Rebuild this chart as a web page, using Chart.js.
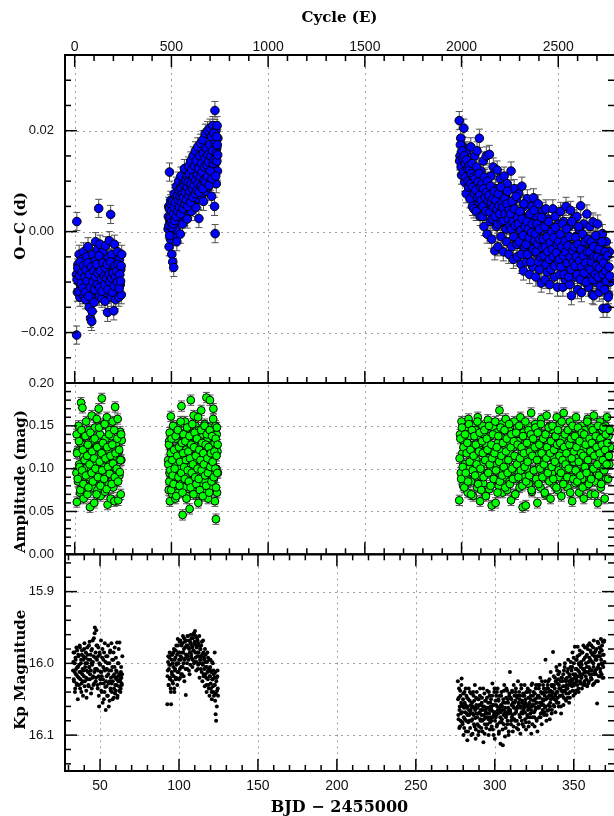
<!DOCTYPE html>
<html>
<head>
<meta charset="utf-8">
<script src="https://cdn.jsdelivr.net/npm/chart.js@4.4.0/dist/chart.umd.min.js"></script>
<style>
  html, body { margin: 0; padding: 0; background: #fff; }
  #wrap { position: relative; width: 614px; height: 816px; }
</style>
</head>
<body>
<div id="wrap"><canvas id="chart" width="614" height="816"></canvas></div>
<script>
/* ------------------------------------------------------------
   Timing data : cycle number E, O-C (d) and amplitude (mag)
------------------------------------------------------------ */
const cycles = [
  9, 10, 11, 14, 17, 20, 23, 27, 30, 33, 36, 40, 43, 46, 49, 53, 56, 59, 62, 66,
  69, 72, 75, 79, 82, 85, 88, 92, 95, 98, 101, 105, 108, 111, 114, 118, 121, 124, 127, 131,
  134, 137, 140, 144, 147, 150, 153, 157, 160, 163, 166, 170, 173, 176, 179, 183, 186, 189, 192, 196,
  199, 202, 205, 209, 212, 215, 218, 222, 225, 228, 231, 235, 238, 241, 243,
  483, 486, 488, 490, 492, 495, 497, 500, 502, 505, 507, 510, 512, 515, 518, 520, 523, 526, 528, 531,
  534, 537, 540, 543, 546, 549, 552, 555, 558, 561, 564, 567, 570, 573, 576, 579, 582, 585, 588, 591,
  594, 597, 600, 603, 606, 609, 612, 615, 618, 621, 624, 627, 630, 633, 636, 639, 642, 645, 648, 651,
  654, 657, 660, 663, 666, 669, 672, 675, 678, 681, 684, 687, 690, 693, 696, 699, 702, 705, 708, 711,
  714, 717, 720, 723, 725, 726, 728, 730, 732, 734, 736, 738, 740,
  1988, 1992, 1996, 2000, 2004, 2008, 2012, 2016, 2020, 2024, 2028, 2032, 2036, 2040, 2044, 2048, 2052, 2056, 2060, 2064,
  2068, 2072, 2076, 2080, 2084, 2088, 2092, 2096, 2100, 2104, 2108, 2112, 2116, 2120, 2124, 2128, 2132, 2136, 2140, 2144,
  2148, 2152, 2156, 2160, 2164, 2168, 2172, 2176, 2180, 2184, 2188, 2192, 2196, 2200, 2204, 2208, 2212, 2216, 2220, 2224,
  2228, 2232, 2236, 2240, 2244, 2248, 2252, 2256, 2260, 2264, 2268, 2272, 2276, 2280, 2284, 2288, 2292, 2296, 2300, 2304,
  2308, 2312, 2316, 2320, 2324, 2328, 2332, 2336, 2340, 2344, 2348, 2352, 2356, 2360, 2364, 2368, 2372, 2376, 2380, 2384,
  2388, 2392, 2396, 2400, 2404, 2408, 2412, 2416, 2420, 2424, 2428, 2432, 2436, 2440, 2444, 2448, 2452, 2456, 2460, 2464,
  2468, 2472, 2476, 2480, 2484, 2488, 2492, 2496, 2500, 2504, 2508, 2512, 2516, 2520, 2524, 2528, 2532, 2536, 2540, 2544,
  2548, 2552, 2556, 2560, 2564, 2568, 2572, 2576, 2580, 2584, 2588, 2592, 2596, 2600, 2604, 2608, 2612, 2616, 2620, 2624,
  2628, 2632, 2636, 2640, 2644, 2648, 2652, 2656, 2660, 2664, 2668, 2672, 2676, 2680, 2684, 2688, 2692, 2696, 2700, 2704,
  2708, 2712, 2716, 2720, 2724, 2728, 2732, 2736, 2740, 2744, 2748, 2752, 2756, 2760, 2764, 2768,
  12, 16, 22, 25, 29, 35, 38, 42, 45, 51, 55, 58, 64, 68, 71, 77, 81, 87, 90, 94,
  100, 103, 107, 113, 116, 120, 126, 129, 133, 139, 142, 146, 152, 155, 159, 165, 168, 172, 178, 181,
  185, 191, 194, 198, 204, 207, 211, 217, 220, 224, 230, 233, 237, 240,
  484, 487, 489, 491, 494, 496, 499, 501, 504, 506, 509, 511, 514, 517, 522, 525, 530, 533, 536, 539,
  542, 545, 548, 551, 554, 557, 560, 563, 566, 569, 572, 575, 578, 581, 584, 587, 590, 593, 596, 599,
  602, 605, 608, 611, 614, 617, 620, 623, 626, 629, 632, 635, 638, 641, 644, 647, 650, 653, 656, 659,
  662, 665, 668, 671, 674, 677, 680, 683, 686, 689, 692, 695, 698, 701, 704, 707, 710, 713, 716, 719,
  722, 727, 729, 731, 733, 735, 737, 739,
  1990, 1994, 1998, 2002, 2006, 2010, 2014, 2018, 2022, 2026, 2030, 2034, 2038, 2042, 2046, 2050, 2054, 2058, 2062, 2066,
  2070, 2074, 2078, 2082, 2086, 2090, 2094, 2098, 2102, 2106, 2110, 2114, 2118, 2122, 2126, 2130, 2134, 2138, 2142, 2146,
  2150, 2154, 2158, 2162, 2166, 2170, 2174, 2178, 2182, 2186, 2190, 2194, 2198, 2202, 2206, 2210, 2214, 2218, 2222, 2226,
  2230, 2234, 2238, 2242, 2246, 2250, 2254, 2258, 2262, 2266, 2270, 2274, 2278, 2282, 2286, 2290, 2294, 2298, 2302, 2306,
  2310, 2314, 2318, 2322, 2326, 2330, 2334, 2338, 2342, 2346, 2350, 2354, 2358, 2362, 2366, 2370, 2374, 2378, 2382, 2386,
  2390, 2394, 2398, 2402, 2406, 2410, 2414, 2418, 2422, 2426, 2430, 2434, 2438, 2442, 2446, 2450, 2454, 2458, 2462, 2466,
  2470, 2474, 2478, 2482, 2486, 2490, 2494, 2498, 2502, 2506, 2510, 2514, 2518, 2522, 2526, 2530, 2534, 2538, 2542, 2546,
  2550, 2554, 2558, 2562, 2566, 2570, 2574, 2578, 2582, 2586, 2590, 2594, 2598, 2602, 2606, 2610, 2614, 2618, 2622, 2626,
  2630, 2634, 2638, 2642, 2646, 2650, 2654, 2658, 2662, 2666, 2670, 2674, 2678, 2682, 2686, 2690, 2694, 2698, 2702, 2706,
  2710, 2714, 2718, 2722, 2726, 2730, 2734, 2738, 2742, 2746, 2750, 2754, 2758, 2762, 2766
];

const ocValues = [
  -0.0085, -0.0205, 0.0020, -0.0120, -0.0065, -0.0100, -0.0045, -0.0130, -0.0078, -0.0110,
  -0.0055, -0.0092, -0.0125, -0.0040, -0.0105, -0.0070, -0.0135, -0.0088, -0.0050, -0.0115,
  -0.0030, -0.0098, -0.0150, -0.0062, -0.0172, -0.0108, -0.0178, -0.0045, -0.0125, -0.0082,
  -0.0140, -0.0058, -0.0020, -0.0095, -0.0118, -0.0035, -0.0075, 0.0046, -0.0128, -0.0025,
  -0.0102, -0.0060, -0.0132, -0.0085, -0.0040, -0.0112, -0.0068, -0.0138, -0.0028, -0.0095,
  -0.0122, -0.0160, -0.0052, -0.0105, -0.0018, -0.0080, 0.0034, -0.0130, -0.0045, -0.0110,
  -0.0070, -0.0157, -0.0025, -0.0098, -0.0135, -0.0060, -0.0115, -0.0040, -0.0088, -0.0130,
  -0.0055, -0.0105, -0.0075, -0.0125, -0.0045,
  0.0005, 0.0050, -0.0030, 0.0118, 0.0020, -0.0015, 0.0062, 0.0010, -0.0045, 0.0040,
  -0.0060, 0.0025, -0.0071, 0.0075, -0.0010, 0.0045, 0.0005, 0.0090, -0.0020, 0.0055,
  0.0020, 0.0100, 0.0030, 0.0068, -0.0005, 0.0110, 0.0040, 0.0080, 0.0015, 0.0095,
  0.0050, 0.0125, 0.0030, 0.0085, 0.0060, 0.0108, 0.0025, 0.0075, 0.0130, 0.0045,
  0.0092, 0.0060, 0.0140, 0.0040, 0.0105, 0.0070, 0.0150, 0.0055, 0.0115, 0.0082,
  0.0160, 0.0048, 0.0120, 0.0090, 0.0168, 0.0065, 0.0026, 0.0135, 0.0100, 0.0175,
  0.0072, 0.0125, 0.0095, 0.0182, 0.0060, 0.0140, 0.0110, 0.0195, 0.0080, 0.0150,
  0.0118, 0.0200, 0.0088, 0.0160, 0.0128, 0.0205, 0.0100, 0.0170, 0.0070, 0.0145,
  0.0210, 0.0115, 0.0180, 0.0050, 0.0240, -0.0004, 0.0135, 0.0200, 0.0095, 0.0165,
  0.0210, 0.0120, 0.0185,
  0.0220, 0.0150, 0.0185, 0.0112, 0.0170, 0.0130, 0.0205, 0.0098, 0.0145, 0.0075,
  0.0160, 0.0120, 0.0088, 0.0138, 0.0065, 0.0168, 0.0102, 0.0050, 0.0128, 0.0045,
  0.0150, 0.0085, 0.0040, 0.0160, 0.0110, 0.0060, 0.0185, 0.0030, 0.0120, 0.0080,
  0.0030, 0.0140, 0.0010, 0.0105, 0.0058, 0.0150, -0.0005, 0.0092, 0.0045, 0.0153,
  0.0020, 0.0110, -0.0015, 0.0070, 0.0128, 0.0035, -0.0038, 0.0085, 0.0010, 0.0122,
  -0.0030, 0.0060, 0.0025, 0.0105, -0.0010, 0.0075, 0.0040, -0.0040, 0.0110, 0.0015,
  0.0070, -0.0020, 0.0095, 0.0030, -0.0045, 0.0060, 0.0005, 0.0120, -0.0030, 0.0050,
  -0.0055, 0.0085, 0.0010, -0.0015, 0.0065, -0.0050, 0.0030, 0.0075, -0.0025, 0.0035,
  -0.0065, 0.0090, 0.0000, -0.0078, 0.0050, -0.0035, 0.0020, -0.0060, 0.0065, -0.0015,
  0.0030, -0.0085, 0.0010, -0.0040, 0.0050, -0.0070, 0.0067, -0.0020, 0.0015, -0.0090,
  0.0030, -0.0045, 0.0055, -0.0010, -0.0075, 0.0020, -0.0102, -0.0030, 0.0040, -0.0060,
  0.0005, -0.0095, 0.0045, -0.0020, -0.0080, 0.0025, -0.0045, -0.0105, 0.0010, -0.0030,
  -0.0070, 0.0045, -0.0010, -0.0090, 0.0030, -0.0055, -0.0025, -0.0110, 0.0015, -0.0040,
  -0.0085, 0.0040, -0.0015, -0.0065, -0.0110, 0.0020, -0.0035, -0.0095, 0.0050, -0.0020,
  -0.0075, -0.0050, 0.0010, -0.0105, 0.0042, -0.0127, -0.0030, -0.0060, 0.0025, -0.0090,
  -0.0010, -0.0065, 0.0030, -0.0115, -0.0040, 0.0005, -0.0080, 0.0051, -0.0121, -0.0025,
  -0.0060, 0.0015, -0.0100, -0.0045, -0.0085, 0.0035, -0.0020, -0.0110, -0.0055, 0.0010,
  -0.0090, -0.0035, -0.0125, 0.0019, -0.0127, -0.0060, -0.0015, -0.0100, -0.0045, 0.0015,
  -0.0080, -0.0120, -0.0030, -0.0095, -0.0060, -0.0004, -0.0152, -0.0110, -0.0045, -0.0085,
  -0.0020, -0.0152, -0.0070, -0.0125, -0.0040, -0.0100,
  -0.0095, -0.0072, -0.0118, -0.0088, -0.0060, -0.0102, -0.0080, -0.0112, -0.0068, -0.0090,
  -0.0120, -0.0075, -0.0098, -0.0062, -0.0128, -0.0085, -0.0110, -0.0070, -0.0158, -0.0100,
  -0.0078, -0.0115, -0.0090, -0.0065, -0.0105, -0.0082, -0.0048, -0.0110, -0.0078, -0.0095,
  -0.0118, -0.0062, -0.0088, -0.0105, -0.0072, -0.0092, -0.0065, -0.0115, -0.0085, -0.0100,
  -0.0060, -0.0092, -0.0120, -0.0082, -0.0108, -0.0068, -0.0090, -0.0078, -0.0100, -0.0065,
  -0.0112, -0.0085, -0.0098, -0.0068,
  0.0030, 0.0012, 0.0045, -0.0008, 0.0028, 0.0055, 0.0018, 0.0040, 0.0008, 0.0060,
  0.0015, 0.0035, 0.0048, 0.0022, 0.0058, 0.0030, 0.0072, 0.0040, 0.0062, 0.0082,
  0.0048, 0.0070, 0.0035, 0.0085, 0.0058, 0.0075, 0.0045, 0.0068, 0.0092, 0.0055,
  0.0078, 0.0100, 0.0062, 0.0088, 0.0050, 0.0098, 0.0072, 0.0115, 0.0080, 0.0058,
  0.0095, 0.0122, 0.0085, 0.0068, 0.0108, 0.0092, 0.0130, 0.0075, 0.0102, 0.0140,
  0.0082, 0.0112, 0.0095, 0.0125, 0.0078, 0.0150, 0.0108, 0.0090, 0.0135, 0.0118,
  0.0085, 0.0155, 0.0102, 0.0128, 0.0145, 0.0098, 0.0165, 0.0132, 0.0110, 0.0152,
  0.0138, 0.0092, 0.0172, 0.0120, 0.0150, 0.0188, 0.0105, 0.0160, 0.0135, 0.0195,
  0.0142, 0.0175, 0.0110, 0.0155, 0.0188, 0.0140, 0.0172, 0.0152,
  0.0140, 0.0172, 0.0128, 0.0160, 0.0145, 0.0118, 0.0150, 0.0135, 0.0108, 0.0142,
  0.0125, 0.0100, 0.0130, 0.0122, 0.0095, 0.0115, 0.0135, 0.0088, 0.0108, 0.0075,
  0.0105, 0.0082, 0.0128, 0.0068, 0.0098, 0.0115, 0.0072, 0.0090, 0.0062, 0.0095,
  0.0050, 0.0085, 0.0108, 0.0068, 0.0040, 0.0078, 0.0100, 0.0060, 0.0072, 0.0038,
  0.0090, 0.0058, 0.0025, 0.0065, 0.0048, 0.0080, 0.0030, 0.0062, 0.0045, 0.0015,
  0.0075, 0.0052, 0.0035, 0.0088, 0.0020, 0.0058, 0.0048, 0.0022, 0.0065, 0.0035,
  0.0005, 0.0055, 0.0080, 0.0025, 0.0042, 0.0012, 0.0035, 0.0005, 0.0060, 0.0020,
  -0.0010, 0.0045, 0.0012, 0.0070, -0.0025, 0.0028, 0.0015, -0.0020, 0.0040, 0.0002,
  -0.0045, 0.0025, -0.0008, 0.0055, -0.0030, 0.0010, -0.0025, 0.0020, -0.0045, 0.0005,
  -0.0012, 0.0035, -0.0060, -0.0002, 0.0015, -0.0035, 0.0042, -0.0018, -0.0005, -0.0040,
  0.0015, -0.0025, -0.0060, 0.0005, -0.0015, -0.0050, 0.0028, -0.0032, -0.0015, -0.0048,
  0.0010, -0.0030, -0.0065, -0.0010, -0.0040, 0.0020, -0.0055, -0.0022, -0.0075, 0.0000,
  -0.0035, -0.0050, -0.0012, -0.0068, 0.0008, -0.0042, -0.0025, -0.0058, -0.0020, -0.0055,
  -0.0005, -0.0070, -0.0030, 0.0015, -0.0048, -0.0085, -0.0018, -0.0040, 0.0005, -0.0062,
  -0.0028, -0.0090, -0.0010, -0.0050, -0.0075, 0.0020, -0.0038, -0.0060, -0.0030, -0.0068,
  -0.0012, -0.0050, -0.0085, -0.0025, 0.0010, -0.0058, -0.0095, -0.0035, -0.0070, -0.0005,
  -0.0048, -0.0082, -0.0020, -0.0062, -0.0100, -0.0040, -0.0015, -0.0072, -0.0040, -0.0075,
  -0.0020, -0.0060, -0.0095, -0.0030, -0.0050, -0.0085, -0.0008, -0.0068, -0.0050, -0.0090,
  -0.0035, -0.0072, -0.0108, -0.0055, -0.0020, -0.0085, -0.0062, -0.0115, -0.0040, -0.0078,
  -0.0098, -0.0048, -0.0130, -0.0070, -0.0088
];

const ampValues = [
  0.095, 0.140, 0.061, 0.120, 0.085, 0.150, 0.105, 0.072, 0.130, 0.177,
  0.092, 0.171, 0.115, 0.065, 0.138, 0.100, 0.080, 0.155, 0.110, 0.070,
  0.125, 0.090, 0.145, 0.055, 0.118, 0.098, 0.162, 0.078, 0.133, 0.108,
  0.060, 0.148, 0.088, 0.125, 0.158, 0.075, 0.112, 0.170, 0.095, 0.140,
  0.068, 0.128, 0.182, 0.085, 0.118, 0.152, 0.102, 0.073, 0.135, 0.092,
  0.160, 0.058, 0.122, 0.082, 0.145, 0.105, 0.065, 0.138, 0.095, 0.155,
  0.078, 0.115, 0.062, 0.172, 0.100, 0.130, 0.085, 0.158, 0.063, 0.120,
  0.092, 0.143, 0.070, 0.110, 0.133,
  0.110, 0.075, 0.132, 0.095, 0.062, 0.125, 0.161, 0.088, 0.140, 0.070,
  0.115, 0.098, 0.148, 0.080, 0.120, 0.065, 0.135, 0.105, 0.090, 0.150,
  0.072, 0.118, 0.100, 0.142, 0.083, 0.128, 0.173, 0.095, 0.046, 0.110,
  0.138, 0.078, 0.155, 0.092, 0.122, 0.068, 0.145, 0.102, 0.085, 0.130,
  0.053, 0.115, 0.180, 0.098, 0.140, 0.075, 0.125, 0.162, 0.088, 0.110,
  0.150, 0.070, 0.132, 0.095, 0.118, 0.060, 0.145, 0.100, 0.082, 0.127,
  0.168, 0.090, 0.115, 0.140, 0.073, 0.105, 0.152, 0.086, 0.120, 0.183,
  0.098, 0.135, 0.065, 0.112, 0.148, 0.180, 0.093, 0.125, 0.078, 0.145,
  0.105, 0.170, 0.088, 0.130, 0.062, 0.115, 0.150, 0.041, 0.100, 0.140,
  0.072, 0.120, 0.095,
  0.063, 0.140, 0.095, 0.155, 0.118, 0.080, 0.132, 0.105, 0.148, 0.090,
  0.125, 0.072, 0.158, 0.100, 0.138, 0.085, 0.115, 0.150, 0.068, 0.128,
  0.098, 0.145, 0.110, 0.078, 0.160, 0.092, 0.122, 0.062, 0.135, 0.105,
  0.150, 0.083, 0.118, 0.140, 0.070, 0.128, 0.095, 0.157, 0.112, 0.076,
  0.138, 0.100, 0.057, 0.125, 0.148, 0.088, 0.115, 0.060, 0.142, 0.105,
  0.130, 0.080, 0.168, 0.097, 0.120, 0.152, 0.072, 0.135, 0.110, 0.090,
  0.158, 0.102, 0.075, 0.128, 0.145, 0.085, 0.118, 0.063, 0.140, 0.098,
  0.125, 0.155, 0.070, 0.112, 0.088, 0.148, 0.132, 0.095, 0.078, 0.160,
  0.105, 0.120, 0.055, 0.142, 0.090, 0.115, 0.057, 0.135, 0.100, 0.150,
  0.082, 0.128, 0.110, 0.165, 0.073, 0.138, 0.098, 0.120, 0.152, 0.086,
  0.115, 0.060, 0.145, 0.102, 0.130, 0.078, 0.158, 0.092, 0.125, 0.108,
  0.140, 0.070, 0.118, 0.162, 0.088, 0.132, 0.100, 0.150, 0.065, 0.122,
  0.095, 0.145, 0.112, 0.080, 0.138, 0.105, 0.160, 0.075, 0.128, 0.090,
  0.152, 0.118, 0.068, 0.135, 0.098, 0.165, 0.085, 0.125, 0.110, 0.143,
  0.078, 0.130, 0.102, 0.155, 0.090, 0.120, 0.062, 0.148, 0.108, 0.135,
  0.083, 0.160, 0.115, 0.095, 0.140, 0.072, 0.128, 0.105, 0.150, 0.088,
  0.122, 0.065, 0.145, 0.100, 0.135, 0.080, 0.158, 0.112, 0.092, 0.130,
  0.070, 0.148, 0.118, 0.102, 0.162, 0.085, 0.125, 0.140, 0.095, 0.060,
  0.135, 0.110, 0.155, 0.078, 0.120, 0.145, 0.100, 0.130, 0.065, 0.150,
  0.088, 0.160, 0.115, 0.138, 0.105, 0.125,
  0.118, 0.088, 0.132, 0.102, 0.075, 0.145, 0.098, 0.122, 0.082, 0.110,
  0.138, 0.092, 0.115, 0.128, 0.078, 0.105, 0.142, 0.095, 0.120, 0.085,
  0.112, 0.135, 0.100, 0.070, 0.125, 0.090, 0.148, 0.108, 0.080, 0.118,
  0.098, 0.130, 0.088, 0.152, 0.112, 0.076, 0.125, 0.102, 0.140, 0.094,
  0.115, 0.082, 0.128, 0.106, 0.145, 0.090, 0.118, 0.100, 0.135, 0.085,
  0.122, 0.096, 0.110, 0.140,
  0.105, 0.128, 0.085, 0.142, 0.098, 0.118, 0.075, 0.135, 0.110, 0.092,
  0.150, 0.082, 0.122, 0.100, 0.138, 0.068, 0.115, 0.145, 0.090, 0.125,
  0.080, 0.108, 0.155, 0.095, 0.130, 0.072, 0.118, 0.140, 0.102, 0.088,
  0.132, 0.110, 0.065, 0.148, 0.098, 0.120, 0.085, 0.138, 0.112, 0.078,
  0.128, 0.095, 0.152, 0.105, 0.070, 0.125, 0.142, 0.090, 0.115, 0.082,
  0.135, 0.100, 0.160, 0.088, 0.122, 0.075, 0.110, 0.145, 0.098, 0.130,
  0.068, 0.118, 0.105, 0.150, 0.092, 0.128, 0.080, 0.140, 0.112, 0.095,
  0.125, 0.072, 0.145, 0.102, 0.118, 0.085, 0.138, 0.108, 0.158, 0.090,
  0.120, 0.100, 0.135, 0.078, 0.115, 0.148, 0.095, 0.128,
  0.112, 0.135, 0.088, 0.148, 0.102, 0.125, 0.078, 0.140, 0.095, 0.118,
  0.130, 0.085, 0.152, 0.108, 0.122, 0.070, 0.145, 0.098, 0.115, 0.138,
  0.092, 0.128, 0.105, 0.155, 0.082, 0.120, 0.142, 0.100, 0.075, 0.132,
  0.118, 0.090, 0.145, 0.110, 0.068, 0.135, 0.122, 0.095, 0.150, 0.105,
  0.080, 0.128, 0.112, 0.140, 0.088, 0.118, 0.155, 0.098, 0.125, 0.072,
  0.138, 0.108, 0.085, 0.148, 0.115, 0.092, 0.130, 0.102, 0.145, 0.078,
  0.120, 0.135, 0.095, 0.110, 0.152, 0.082, 0.125, 0.140, 0.100, 0.088,
  0.132, 0.115, 0.070, 0.142, 0.105, 0.128, 0.090, 0.150, 0.112, 0.098,
  0.125, 0.080, 0.138, 0.118, 0.102, 0.155, 0.085, 0.130, 0.108, 0.145,
  0.092, 0.120, 0.140, 0.075, 0.115, 0.135, 0.098, 0.125, 0.148, 0.088,
  0.110, 0.142, 0.082, 0.128, 0.100, 0.152, 0.118, 0.090, 0.135, 0.105,
  0.072, 0.140, 0.112, 0.125, 0.095, 0.148, 0.085, 0.118, 0.132, 0.102,
  0.150, 0.088, 0.122, 0.108, 0.138, 0.078, 0.128, 0.145, 0.098, 0.115,
  0.130, 0.095, 0.155, 0.110, 0.082, 0.125, 0.140, 0.105, 0.118, 0.090,
  0.145, 0.100, 0.128, 0.072, 0.135, 0.112, 0.150, 0.088, 0.120, 0.138,
  0.098, 0.125, 0.085, 0.148, 0.108, 0.132, 0.092, 0.118, 0.142, 0.078,
  0.115, 0.140, 0.102, 0.128, 0.095, 0.155, 0.110, 0.082, 0.135, 0.120,
  0.088, 0.130, 0.145, 0.100, 0.115, 0.070, 0.138, 0.125, 0.105, 0.150,
  0.092, 0.118, 0.135, 0.082, 0.128, 0.110, 0.148, 0.098, 0.122, 0.140,
  0.105, 0.130, 0.088, 0.115, 0.145
];

const ocError = 0.0018;   // typical timing error (d)
const ampError = 0.006;   // typical amplitude error (mag)

/* ------------------------------------------------------------
   Light curve : BJD - 2455000 and Kepler magnitude
------------------------------------------------------------ */
const kpTimes = [
  32.9, 33.2, 33.5, 33.8, 34.1, 34.4, 34.7, 35.0, 35.3, 35.6, 35.9, 36.2, 36.5, 36.8, 37.1, 37.4, 37.7, 38.0, 38.3, 38.6,
  38.9, 39.2, 39.5, 39.8, 40.1, 40.4, 40.7, 41.0, 41.3, 41.6, 41.9, 42.2, 42.5, 42.8, 43.1, 43.4, 43.7, 44.0, 44.3, 44.6,
  44.9, 45.2, 45.5, 45.8, 46.1, 46.4, 46.7, 47.0, 47.3, 47.6, 47.9, 48.2, 48.5, 48.8, 49.1, 49.4, 49.7, 50.0, 50.3, 50.6,
  50.9, 51.2, 51.5, 51.8, 52.1, 52.4, 52.7, 53.0, 53.3, 53.6, 53.9, 54.2, 54.5, 54.8, 55.1, 55.4, 55.7, 56.0, 56.3, 56.6,
  56.9, 57.2, 57.5, 57.8, 58.1, 58.4, 58.7, 59.0, 59.3, 59.6, 59.9, 60.2, 60.5, 60.8, 61.1, 61.4, 61.7, 62.0, 62.3, 62.6,
  62.9, 63.2, 63.5, 63.8, 64.1,
  92.6, 92.9, 93.2, 93.5, 93.8, 94.1, 94.4, 94.7, 95.0, 95.3, 95.6, 95.9, 96.2, 96.5, 96.8, 97.1, 97.4, 97.7, 98.0, 98.3,
  98.6, 98.9, 99.2, 99.5, 99.8, 100.1, 100.4, 100.7, 101.0, 101.3, 101.6, 101.9, 102.2, 102.5, 102.8, 103.1, 103.4, 103.7, 104.0, 104.3,
  104.6, 104.9, 105.2, 105.5, 105.8, 106.1, 106.4, 106.7, 107.0, 107.3, 107.6, 107.9, 108.2, 108.5, 108.8, 109.1, 109.4, 109.7, 110.0, 110.3,
  110.6, 110.9, 111.2, 111.5, 111.8, 112.1, 112.4, 112.7, 113.0, 113.3, 113.6, 113.9, 114.2, 114.5, 114.8, 115.1, 115.4, 115.7, 116.0, 116.3,
  116.6, 116.9, 117.2, 117.5, 117.8, 118.1, 118.4, 118.7, 119.0, 119.3, 119.6, 119.9, 120.2, 120.5, 120.8, 121.1, 121.4, 121.7, 122.0, 122.3,
  122.6, 122.9, 123.2, 123.5, 123.8, 124.1, 124.4, 124.7,
  276.6, 276.9, 277.2, 277.5, 277.8, 278.1, 278.4, 278.7, 279.0, 279.3, 279.6, 279.9, 280.2, 280.5, 280.8, 281.1, 281.4, 281.7, 282.0, 282.3,
  282.6, 282.9, 283.2, 283.5, 283.8, 284.1, 284.4, 284.7, 285.0, 285.3, 285.6, 285.9, 286.2, 286.5, 286.8, 287.1, 287.4, 287.7, 288.0, 288.3,
  288.6, 288.9, 289.2, 289.5, 289.8, 290.1, 290.4, 290.7, 291.0, 291.3, 291.6, 291.9, 292.2, 292.5, 292.8, 293.1, 293.4, 293.7, 294.0, 294.3,
  294.6, 294.9, 295.2, 295.5, 295.8, 296.1, 296.4, 296.7, 297.0, 297.3, 297.6, 297.9, 298.2, 298.5, 298.8, 299.1, 299.4, 299.7, 300.0, 300.3,
  300.6, 300.9, 301.2, 301.5, 301.8, 302.1, 302.4, 302.7, 303.0, 303.3, 303.6, 303.9, 304.2, 304.5, 304.8, 305.1, 305.4, 305.7, 306.0, 306.3,
  306.6, 306.9, 307.2, 307.5, 307.8, 308.1, 308.4, 308.7, 309.0, 309.3, 309.6, 309.9, 310.2, 310.5, 310.8, 311.1, 311.4, 311.7, 312.0, 312.3,
  312.6, 312.9, 313.2, 313.5, 313.8, 314.1, 314.4, 314.7, 315.0, 315.3, 315.6, 315.9, 316.2, 316.5, 316.8, 317.1, 317.4, 317.7, 318.0, 318.3,
  318.6, 318.9, 319.2, 319.5, 319.8, 320.1, 320.4, 320.7, 321.0, 321.3, 321.6, 321.9, 322.2, 322.5, 322.8, 323.1, 323.4, 323.7, 324.0, 324.3,
  324.6, 324.9, 325.2, 325.5, 325.8, 326.1, 326.4, 326.7, 327.0, 327.3, 327.6, 327.9, 328.2, 328.5, 328.8, 329.1, 329.4, 329.7, 330.0, 330.3,
  330.6, 330.9, 331.2, 331.5, 331.8, 332.1, 332.4, 332.7, 333.0, 333.3, 333.6, 333.9, 334.2, 334.5, 334.8, 335.1, 335.4, 335.7, 336.0, 336.3,
  336.6, 336.9, 337.2, 337.5, 337.8, 338.1, 338.4, 338.7, 339.0, 339.3, 339.6, 339.9, 340.2, 340.5, 340.8, 341.1, 341.4, 341.7, 342.0, 342.3,
  342.6, 342.9, 343.2, 343.5, 343.8, 344.1, 344.4, 344.7, 345.0, 345.3, 345.6, 345.9, 346.2, 346.5, 346.8, 347.1, 347.4, 347.7, 348.0, 348.3,
  348.6, 348.9, 349.2, 349.5, 349.8, 350.1, 350.4, 350.7, 351.0, 351.3, 351.6, 351.9, 352.2, 352.5, 352.8, 353.1, 353.4, 353.7, 354.0, 354.3,
  354.6, 354.9, 355.2, 355.5, 355.8, 356.1, 356.4, 356.7, 357.0, 357.3, 357.6, 357.9, 358.2, 358.5, 358.8, 359.1, 359.4, 359.7, 360.0, 360.3,
  360.6, 360.9, 361.2, 361.5, 361.8, 362.1, 362.4, 362.7, 363.0, 363.3, 363.6, 363.9, 364.2, 364.5, 364.8, 365.1, 365.4, 365.7, 366.0, 366.3,
  366.6, 366.9, 367.2, 367.5, 367.8, 368.1, 368.4, 368.7, 369.0, 369.3,
  33.05, 33.35, 33.65, 33.95, 34.25, 34.55, 34.85, 35.15, 35.45, 35.75, 36.05, 36.35, 36.65, 36.95, 37.25, 37.55, 37.85, 38.15, 38.45, 38.75,
  39.05, 39.35, 39.65, 39.95, 40.25, 40.55, 40.85, 41.15, 41.45, 41.75, 42.05, 42.35, 42.65, 42.95, 43.25, 43.55, 43.85, 44.15, 44.45, 44.75,
  45.05, 45.35, 45.65, 45.95, 46.25, 46.55, 46.85, 47.15, 47.45, 47.75, 48.05, 48.35, 48.65, 48.95, 49.25, 49.55, 49.85, 50.15, 50.45, 50.75,
  51.05, 51.35, 51.65, 51.95, 52.25, 52.55, 52.85, 53.15, 53.45, 53.75, 54.05, 54.35, 54.65, 54.95, 55.25, 55.55, 55.85, 56.15, 56.45, 56.75,
  57.05, 57.35, 57.65, 57.95, 58.25, 58.55, 58.85, 59.15, 59.45, 59.75, 60.05, 60.35, 60.65, 60.95, 61.25, 61.55, 61.85, 62.15, 62.45, 62.75,
  63.05, 63.35, 63.65, 63.95,
  92.75, 93.05, 93.35, 93.65, 93.95, 94.25, 94.55, 94.85, 95.15, 95.45, 95.75, 96.05, 96.35, 96.65, 96.95, 97.25, 97.55, 97.85, 98.15, 98.45,
  98.75, 99.05, 99.35, 99.65, 99.95, 100.25, 100.55, 100.85, 101.15, 101.45, 101.75, 102.05, 102.35, 102.65, 102.95, 103.25, 103.55, 103.85, 104.15, 104.45,
  104.75, 105.05, 105.35, 105.65, 105.95, 106.25, 106.55, 106.85, 107.15, 107.45, 107.75, 108.05, 108.35, 108.65, 108.95, 109.25, 109.55, 109.85, 110.15, 110.45,
  110.75, 111.05, 111.35, 111.65, 111.95, 112.25, 112.55, 112.85, 113.15, 113.45, 113.75, 114.05, 114.35, 114.65, 114.95, 115.25, 115.55, 115.85, 116.15, 116.45,
  116.75, 117.05, 117.35, 117.65, 117.95, 118.25, 118.55, 118.85, 119.15, 119.45, 119.75, 120.05, 120.35, 120.65, 120.95, 121.25, 121.55, 121.85, 122.15, 122.45,
  122.75, 123.05, 123.35, 123.65, 123.95, 124.25, 124.55,
  276.75, 277.05, 277.35, 277.65, 277.95, 278.25, 278.55, 278.85, 279.15, 279.45, 279.75, 280.05, 280.35, 280.65, 280.95, 281.25, 281.55, 281.85, 282.15, 282.45,
  282.75, 283.05, 283.35, 283.65, 283.95, 284.25, 284.55, 284.85, 285.15, 285.45, 285.75, 286.05, 286.35, 286.65, 286.95, 287.25, 287.55, 287.85, 288.15, 288.45,
  288.75, 289.05, 289.35, 289.65, 289.95, 290.25, 290.55, 290.85, 291.15, 291.45, 291.75, 292.05, 292.35, 292.65, 292.95, 293.25, 293.55, 293.85, 294.15, 294.45,
  294.75, 295.05, 295.35, 295.65, 295.95, 296.25, 296.55, 296.85, 297.15, 297.45, 297.75, 298.05, 298.35, 298.65, 298.95, 299.25, 299.55, 299.85, 300.15, 300.45,
  300.75, 301.05, 301.35, 301.65, 301.95, 302.25, 302.55, 302.85, 303.15, 303.45, 303.75, 304.05, 304.35, 304.65, 304.95, 305.25, 305.55, 305.85, 306.15, 306.45,
  306.75, 307.05, 307.35, 307.65, 307.95, 308.25, 308.55, 308.85, 309.15, 309.45, 309.75, 310.05, 310.35, 310.65, 310.95, 311.25, 311.55, 311.85, 312.15, 312.45,
  312.75, 313.05, 313.35, 313.65, 313.95, 314.25, 314.55, 314.85, 315.15, 315.45, 315.75, 316.05, 316.35, 316.65, 316.95, 317.25, 317.55, 317.85, 318.15, 318.45,
  318.75, 319.05, 319.35, 319.65, 319.95, 320.25, 320.55, 320.85, 321.15, 321.45, 321.75, 322.05, 322.35, 322.65, 322.95, 323.25, 323.55, 323.85, 324.15, 324.45,
  324.75, 325.05, 325.35, 325.65, 325.95, 326.25, 326.55, 326.85, 327.15, 327.45, 327.75, 328.05, 328.35, 328.65, 328.95, 329.25, 329.55, 329.85, 330.15, 330.45,
  330.75, 331.05, 331.35, 331.65, 331.95, 332.25, 332.55, 332.85, 333.15, 333.45, 333.75, 334.05, 334.35, 334.65, 334.95, 335.25, 335.55, 335.85, 336.15, 336.45,
  336.75, 337.05, 337.35, 337.65, 337.95, 338.25, 338.55, 338.85, 339.15, 339.45, 339.75, 340.05, 340.35, 340.65, 340.95, 341.25, 341.55, 341.85, 342.15, 342.45,
  342.75, 343.05, 343.35, 343.65, 343.95, 344.25, 344.55, 344.85, 345.15, 345.45, 345.75, 346.05, 346.35, 346.65, 346.95, 347.25, 347.55, 347.85, 348.15, 348.45,
  348.75, 349.05, 349.35, 349.65, 349.95, 350.25, 350.55, 350.85, 351.15, 351.45, 351.75, 352.05, 352.35, 352.65, 352.95, 353.25, 353.55, 353.85, 354.15, 354.45,
  354.75, 355.05, 355.35, 355.65, 355.95, 356.25, 356.55, 356.85, 357.15, 357.45, 357.75, 358.05, 358.35, 358.65, 358.95, 359.25, 359.55, 359.85, 360.15, 360.45,
  360.75, 361.05, 361.35, 361.65, 361.95, 362.25, 362.55, 362.85, 363.15, 363.45, 363.75, 364.05, 364.35, 364.65, 364.95, 365.25, 365.55, 365.85, 366.15, 366.45,
  366.75, 367.05, 367.35, 367.65, 367.95, 368.25, 368.55, 368.85, 369.15, 369.45
];

const kpValues = [
  16.010, 15.985, 16.025, 16.000, 16.040, 15.992, 16.015, 15.978, 16.030, 16.005,
  16.050, 15.988, 16.020, 16.002, 15.975, 16.035, 16.012, 15.995, 16.028, 15.982,
  16.008, 16.045, 15.990, 16.018, 15.972, 16.025, 16.000, 15.985, 16.038, 16.010,
  15.978, 16.022, 15.995, 16.032, 16.005, 15.970, 16.015, 15.988, 16.042, 16.000,
  15.980, 16.020, 15.998, 16.030, 15.965, 16.012, 15.950, 15.992, 16.025, 15.954,
  16.008, 15.975, 16.035, 15.990, 16.018, 16.060, 15.985, 16.002, 16.028, 15.968,
  16.012, 16.040, 15.980, 16.022, 15.995, 16.050, 16.008, 15.972, 16.033, 16.065,
  15.990, 16.018, 16.045, 16.000, 15.975, 16.028, 16.010, 16.052, 15.985, 16.035,
  16.020, 15.972, 16.040, 16.005, 16.025, 15.995, 16.048, 16.015, 15.978, 16.030,
  16.038, 16.010, 16.022, 15.971, 16.045, 16.018, 16.000, 16.032, 15.971, 16.025,
  16.040, 16.012, 16.020, 16.030, 15.990,
  16.057, 16.010, 15.990, 16.030, 16.002, 15.985, 16.020, 16.035, 16.057, 15.995,
  16.015, 15.988, 16.028, 16.005, 15.980, 16.040, 16.010, 15.992, 16.022, 15.975,
  16.000, 16.030, 15.966, 15.985, 16.012, 15.995, 15.970, 16.020, 15.990, 16.005,
  15.975, 16.015, 15.985, 15.962, 16.000, 15.980, 16.025, 15.970, 15.993, 16.044,
  15.968, 15.988, 16.008, 15.975, 15.962, 15.995, 15.980, 16.015, 15.970, 15.985,
  15.960, 15.992, 15.975, 16.005, 15.965, 15.982, 15.958, 15.998, 15.972, 15.985,
  15.962, 16.010, 15.978, 15.990, 15.968, 16.002, 15.985, 15.975, 16.020, 15.995,
  15.980, 16.008, 15.990, 15.970, 16.025, 16.000, 15.985, 16.015, 15.995, 16.032,
  16.005, 15.988, 16.020, 16.040, 15.998, 16.012, 15.992, 16.030, 16.008, 16.045,
  16.018, 15.995, 16.035, 16.010, 16.050, 16.022, 16.000, 16.040, 16.015, 16.030,
  15.985, 16.052, 16.071, 16.080, 16.020, 16.038, 16.010, 16.045,
  16.025, 16.072, 16.048, 16.090, 16.060, 16.038, 16.080, 16.055, 16.021, 16.068,
  16.085, 16.050, 16.100, 16.062, 16.040, 16.078, 16.058, 16.095, 16.045, 16.070,
  16.107, 16.060, 16.082, 16.035, 16.072, 16.052, 16.090, 16.066, 16.042, 16.080,
  16.055, 16.098, 16.070, 16.045, 16.085, 16.062, 16.030, 16.076, 16.092, 16.058,
  16.040, 16.075, 16.062, 16.100, 16.050, 16.088, 16.068, 16.035, 16.080, 16.058,
  16.072, 16.048, 16.095, 16.060, 16.110, 16.078, 16.042, 16.085, 16.065, 16.052,
  16.090, 16.062, 16.038, 16.075, 16.055, 16.100, 16.070, 16.045, 16.082, 16.060,
  16.050, 16.080, 16.066, 16.028, 16.092, 16.058, 16.072, 16.040, 16.105, 16.068,
  16.075, 16.045, 16.088, 16.060, 16.035, 16.070, 16.052, 16.095, 16.065, 16.082,
  16.112, 16.058, 16.040, 16.078, 16.065, 16.114, 16.050, 16.085, 16.030, 16.070,
  16.062, 16.090, 16.048, 16.072, 16.038, 16.080, 16.055, 16.100, 16.065, 16.042,
  16.012, 16.068, 16.085, 16.050, 16.075, 16.040, 16.095, 16.060, 16.030, 16.078,
  16.055, 16.080, 16.040, 16.068, 16.090, 16.048, 16.062, 16.025, 16.085, 16.058,
  16.072, 16.045, 16.098, 16.060, 16.035, 16.080, 16.052, 16.070, 16.042, 16.088,
  16.062, 16.030, 16.078, 16.050, 16.092, 16.058, 16.040, 16.075, 16.065, 16.048,
  16.082, 16.055, 16.038, 16.070, 16.045, 16.098, 16.060, 16.028, 16.075, 16.052,
  16.040, 16.068, 16.088, 16.050, 16.062, 16.030, 16.078, 16.055, 16.095, 16.045,
  16.060, 16.035, 16.075, 16.048, 16.020, 16.070, 16.055, 16.085, 16.042, 16.065,
  16.030, 16.058, 16.072, 16.040, 16.062, 15.995, 16.050, 16.080, 16.035, 16.066,
  16.048, 16.025, 16.065, 16.040, 16.078, 16.055, 16.012, 16.045, 16.070, 16.032,
  16.040, 15.984, 16.058, 16.030, 16.050, 16.020, 16.068, 16.042, 16.005, 16.055,
  16.028, 16.048, 16.015, 16.060, 16.035, 16.002, 16.045, 16.025, 16.070, 16.038,
  16.020, 16.045, 16.032, 16.058, 16.010, 16.038, 16.000, 16.050, 16.025, 16.042,
  16.035, 16.012, 16.048, 15.995, 16.030, 16.055, 16.018, 16.040, 16.005, 16.028,
  16.010, 16.032, 15.985, 16.022, 16.045, 16.000, 16.028, 15.977, 16.015, 16.038,
  16.022, 15.995, 16.030, 15.977, 16.010, 16.040, 16.002, 15.988, 16.025, 16.015,
  15.998, 16.020, 16.035, 15.985, 16.008, 15.975, 16.028, 16.012, 15.992, 16.030,
  16.018, 15.990, 16.005, 16.032, 15.980, 16.012, 15.998, 16.025, 15.972, 16.008,
  15.995, 16.020, 15.975, 16.010, 15.988, 16.030, 16.000, 15.968, 16.015, 15.985,
  16.010, 15.982, 16.025, 15.995, 16.056, 15.970, 16.005, 15.990, 16.018, 15.978,
  15.990, 16.012, 15.966, 16.000, 15.982, 16.020, 15.970, 16.005, 15.988, 15.968,
  15.998, 16.022, 15.985, 16.012, 16.035, 15.995, 16.008, 16.028, 15.982, 16.018,
  16.005, 15.990, 16.030, 16.012, 15.978, 16.022, 16.000, 16.040, 15.988, 16.015,
  16.025, 15.995, 16.010, 15.980, 16.032, 16.005, 15.992, 16.020, 16.048, 16.000,
  15.988, 16.012, 16.030, 15.975, 16.005, 16.022, 15.995, 16.010, 15.982, 16.035,
  16.002, 15.968, 16.018, 15.990, 16.028, 15.958, 16.008, 15.985, 16.020, 15.975,
  15.995, 16.030, 16.010, 15.978, 16.045, 16.000, 15.988, 16.022, 16.012, 16.038,
  16.018, 15.992, 16.055, 16.005, 16.028, 15.985, 16.040, 16.010, 15.998, 16.025,
  16.032, 16.008, 15.990, 16.045, 16.015, 16.060, 16.000, 16.025, 15.982, 16.038,
  16.010, 16.028, 15.995, 16.050, 16.018, 15.985, 16.035, 16.005, 16.042, 16.020,
  15.992, 16.030, 16.012, 16.048, 16.000, 16.025, 15.980, 16.038, 16.015, 16.022,
  16.035, 16.005, 16.028, 16.015,
  16.018, 15.998, 16.030, 16.008, 15.992, 16.022, 16.002, 16.040, 15.988, 16.012,
  16.025, 16.000, 15.985, 16.018, 16.035, 15.995, 16.008, 15.982, 16.020, 16.002,
  15.988, 16.012, 15.975, 16.000, 16.022, 15.985, 16.008, 15.968, 15.995, 16.015,
  15.992, 15.972, 16.005, 15.985, 16.018, 15.965, 15.995, 15.978, 16.008, 15.988,
  15.975, 16.000, 15.962, 15.990, 15.978, 16.010, 15.968, 15.985, 16.002, 15.972,
  15.988, 15.965, 15.978, 15.995, 15.960, 15.982, 16.000, 15.970, 15.955, 15.992,
  15.975, 15.998, 15.965, 15.985, 16.008, 15.972, 15.990, 15.962, 16.000, 15.980,
  15.995, 15.975, 16.012, 15.988, 16.002, 15.968, 16.018, 15.992, 16.008, 15.980,
  16.015, 15.998, 16.030, 16.005, 15.985, 16.022, 16.010, 16.035, 15.995, 16.018,
  16.005, 16.028, 16.012, 16.040, 15.998, 16.022, 16.032, 16.010, 16.045, 16.020,
  16.030, 16.012, 16.042, 16.025, 16.060, 16.018, 16.035,
  16.050, 16.078, 16.035, 16.065, 16.088, 16.045, 16.070, 16.030, 16.058, 16.082,
  16.060, 16.042, 16.075, 16.090, 16.055, 16.068, 16.035, 16.080, 16.062, 16.048,
  16.072, 16.095, 16.050, 16.065, 16.080, 16.040, 16.070, 16.058, 16.100, 16.062,
  16.078, 16.060, 16.040, 16.072, 16.052, 16.088, 16.065, 16.105, 16.048, 16.070,
  16.062, 16.085, 16.050, 16.070, 16.095, 16.058, 16.045, 16.078, 16.065, 16.090,
  16.055, 16.080, 16.065, 16.035, 16.072, 16.060, 16.098, 16.052, 16.075, 16.068,
  16.070, 16.048, 16.085, 16.062, 16.078, 16.040, 16.065, 16.092, 16.055, 16.075,
  16.062, 16.088, 16.045, 16.075, 16.058, 16.100, 16.068, 16.035, 16.080, 16.052,
  16.058, 16.072, 16.040, 16.085, 16.065, 16.050, 16.098, 16.062, 16.045, 16.075,
  16.068, 16.045, 16.082, 16.060, 16.092, 16.055, 16.072, 16.038, 16.065, 16.102,
  16.055, 16.075, 16.035, 16.068, 16.085, 16.050, 16.062, 16.095, 16.045, 16.070,
  16.065, 16.048, 16.080, 16.058, 16.038, 16.072, 16.055, 16.088, 16.062, 16.045,
  16.070, 16.052, 16.035, 16.065, 16.080, 16.045, 16.060, 16.092, 16.055, 16.040,
  16.050, 16.075, 16.062, 16.030, 16.068, 16.055, 16.085, 16.045, 16.065, 16.058,
  16.045, 16.068, 16.055, 16.082, 16.040, 16.060, 16.072, 16.035, 16.058, 16.088,
  16.062, 16.040, 16.075, 16.050, 16.065, 16.030, 16.058, 16.085, 16.045, 16.068,
  16.058, 16.075, 16.042, 16.065, 16.035, 16.055, 16.080, 16.048, 16.062, 16.030,
  16.045, 16.062, 16.030, 16.055, 16.075, 16.040, 16.058, 16.025, 16.068, 16.050,
  16.052, 16.035, 16.068, 16.045, 16.025, 16.060, 16.040, 16.072, 16.048, 16.030,
  16.035, 16.058, 16.045, 16.022, 16.060, 16.038, 16.050, 16.030, 16.065, 16.042,
  16.030, 16.048, 16.018, 16.060, 16.035, 16.045, 16.025, 16.052, 16.040, 16.010,
  16.040, 16.022, 16.055, 16.030, 16.012, 16.045, 16.035, 16.060, 16.020, 16.038,
  16.025, 16.040, 16.015, 16.048, 16.032, 16.005, 16.038, 16.022, 16.052, 16.030,
  16.020, 16.035, 16.008, 16.042, 16.025, 16.015, 16.048, 16.030, 15.998, 16.022,
  16.025, 16.005, 16.038, 16.015, 15.992, 16.030, 16.020, 16.042, 16.008, 15.995,
  16.008, 16.025, 15.990, 16.018, 16.035, 16.000, 16.012, 15.982, 16.028, 16.005,
  16.020, 16.002, 15.985, 16.015, 16.030, 15.995, 16.008, 16.025, 15.978, 16.012,
  16.000, 16.022, 15.988, 16.012, 15.975, 16.028, 16.005, 15.992, 16.015, 15.982,
  16.010, 15.985, 16.022, 15.998, 16.015, 15.978, 16.005, 16.028, 15.990, 16.012,
  15.995, 16.015, 15.980, 16.008, 15.990, 16.025, 15.972, 16.002, 16.018, 15.985,
  16.008, 15.980, 15.995, 16.015, 15.975, 16.002, 15.988, 16.020, 15.970, 15.998
];

/* ------------------------------------------------------------
   Axes : ranges, labelled ticks, ephemeris of the top axis
------------------------------------------------------------ */
const BJD_MIN = 27.8, BJD_MAX = 375.5;
const T0 = 33.95, PERIOD = 0.1225;          // BJD of E = 0, orbital period (d)
const bjdTicks   = [50, 100, 150, 200, 250, 300, 350];
const cycleTicks = [0, 500, 1000, 1500, 2000, 2500];
const ocTicks    = [-0.02, 0.00, 0.02];
const ampTicks   = [0.00, 0.05, 0.10, 0.15, 0.20];
const kpTicks    = [15.9, 16.0, 16.1];

const SANS  = "'Liberation Sans', Arial, sans-serif";
const SERIF = "'DejaVu Serif', serif";

const fixW = w => s => { s.width = w; s.paddingTop = 0; s.paddingBottom = 0; };
const fixH = h => s => { s.height = h; s.paddingLeft = 0; s.paddingRight = 0; };
const useTicks = list => s => { s.ticks = list.map(v => ({ value: v })); };
const fmt = d => v => (Math.abs(v) < 1e-9 ? 0 : v).toFixed(d).replace('-', '\u2212');

const yFont = { family: SANS, size: 13 };
const xFont = { family: SANS, size: 14 };

function yScale(weight, stackWeight, min, max, list, digits, extra) {
    return Object.assign({
        type: 'linear', axis: 'y', position: 'left',
        stack: 'panels', stackWeight, weight,
        min, max,
        afterBuildTicks: useTicks(list),
        afterFit: fixW(65),
        grid: { display: false, drawTicks: false },
        border: { display: false },
        ticks: { padding: 11, color: '#111', font: yFont, autoSkip: false, callback: fmt(digits) }
    }, extra || {});
}

/* ------------------------------------------------------------
   Frames, dotted grids, inward ticks, error bars, y titles
------------------------------------------------------------ */
function stepValues(lo, hi, step) {
    const out = [];
    for (let k = Math.ceil(lo / step - 1e-6); k * step <= hi + 1e-9; k++) out.push(k * step);
    return out;
}
function isMajor(v, major) {
    return Math.abs(v / major - Math.round(v / major)) < 1e-6;
}

const framePlugin = {
    id: 'frame',
    beforeDatasetsDraw(chart) {
        const { ctx, chartArea: a, scales: s } = chart;
        ctx.save();
        ctx.strokeStyle = '#a0a0a0';
        ctx.lineWidth = 1;
        ctx.setLineDash([2, 4]);
        const hline = (sc, v) => {
            const y = Math.round(sc.getPixelForValue(v)) + 0.5;
            if (y < sc.top + 2 || y > sc.bottom - 2) return;
            ctx.beginPath(); ctx.moveTo(a.left, y); ctx.lineTo(a.right, y); ctx.stroke();
        };
        const vline = (sc, v, top, bottom) => {
            const x = Math.round(sc.getPixelForValue(v)) + 0.5;
            ctx.beginPath(); ctx.moveTo(x, top); ctx.lineTo(x, bottom); ctx.stroke();
        };
        ocTicks.forEach(v => hline(s.yOC, v));
        ampTicks.forEach(v => hline(s.yAmp, v));
        kpTicks.forEach(v => hline(s.yKp, v));
        cycleTicks.forEach(v => vline(s.cycle, v, s.yOC.top, s.yAmp.bottom));
        bjdTicks.forEach(v => vline(s.x, v, s.yKp.top, s.yKp.bottom));
        ctx.restore();

        // error bars under the markers
        ctx.save();
        ctx.beginPath(); ctx.rect(a.left, a.top, a.width, a.height); ctx.clip();
        ctx.strokeStyle = '#505050';
        ctx.lineWidth = 1;
        const bars = (ys, values, err) => {
            ctx.beginPath();
            cycles.forEach((e, i) => {
                const v = values[i];
                if (v == null) return;
                const x = s.cycle.getPixelForValue(e);
                const y1 = ys.getPixelForValue(v - err), y2 = ys.getPixelForValue(v + err);
                ctx.moveTo(x, y1); ctx.lineTo(x, y2);
                ctx.moveTo(x - 3.5, y1); ctx.lineTo(x + 3.5, y1);
                ctx.moveTo(x - 3.5, y2); ctx.lineTo(x + 3.5, y2);
            });
            ctx.stroke();
        };
        bars(s.yOC, ocValues, ocError);
        bars(s.yAmp, ampValues, ampError);
        ctx.restore();
    },
    afterDatasetsDraw(chart) {
        const { ctx, chartArea: a, scales: s } = chart;
        ctx.save();
        ctx.strokeStyle = '#000';
        ctx.lineWidth = 1.5;
        const seg = (x1, y1, x2, y2) => { ctx.beginPath(); ctx.moveTo(x1, y1); ctx.lineTo(x2, y2); ctx.stroke(); };
        const yTicks = (sc, step, major) => {
            stepValues(Math.min(sc.min, sc.max), Math.max(sc.min, sc.max), step).forEach(v => {
                const y = sc.getPixelForValue(v);
                const len = isMajor(v, major) ? 12 : 6;
                seg(a.left, y, a.left + len, y);
                seg(a.right, y, a.right - len, y);
            });
        };
        const xTicks = (sc, step, major, y, dir) => {
            stepValues(sc.min, sc.max, step).forEach(v => {
                const x = sc.getPixelForValue(v);
                if (x < a.left + 1 || x > a.right - 1) return;
                const len = isMajor(v, major) ? 12 : 6;
                seg(x, y, x, y + dir * len);
            });
        };
        yTicks(s.yOC, 0.005, 0.02);
        yTicks(s.yAmp, 0.01, 0.05);
        yTicks(s.yKp, 0.02, 0.1);
        xTicks(s.cycle, 100, 500, s.yOC.top, 1);
        xTicks(s.cycle, 100, 500, s.yOC.bottom, -1);
        xTicks(s.cycle, 100, 500, s.yAmp.bottom, -1);
        xTicks(s.x, 10, 50, s.yKp.top, 1);
        xTicks(s.x, 10, 50, s.yKp.bottom, -1);

        ctx.lineWidth = 2;
        [s.yOC, s.yAmp, s.yKp].forEach(sc => ctx.strokeRect(a.left, sc.top, a.right - a.left + 4, sc.bottom - sc.top));
        ctx.restore();
    },
    afterDraw(chart) {
        const { ctx, scales: s } = chart;
        const titles = [[s.yOC, 'O\u2212C (d)', 7], [s.yAmp, 'Amplitude (mag)', 13], [s.yKp, 'Kp Magnitude', 7]];
        ctx.save();
        ctx.fillStyle = '#000';
        ctx.font = 'bold 15px ' + SERIF;
        ctx.textAlign = 'center';
        ctx.textBaseline = 'middle';
        titles.forEach(([sc, text, shift]) => {
            ctx.save();
            ctx.translate(21, (sc.top + sc.bottom) / 2 + shift);
            ctx.rotate(-Math.PI / 2);
            ctx.fillText(text, 0, 0);
            ctx.restore();
        });
        ctx.restore();
    }
};

/* ------------------------------------------------------------
   Chart
------------------------------------------------------------ */
const ocPoints  = cycles.map((e, i) => ({ x: e, y: ocValues[i] }));
const ampPoints = cycles.map((e, i) => ({ x: e, y: ampValues[i] }));
const kpPoints  = kpTimes.map((t, i) => ({ x: t, y: kpValues[i] }));

new Chart(document.getElementById('chart'), {
    type: 'scatter',
    data: {
        datasets: [
            {
                label: 'O-C', data: ocPoints, xAxisID: 'cycle', yAxisID: 'yOC',
                pointRadius: 4.3, pointBackgroundColor: '#0000ff',
                pointBorderColor: '#000', pointBorderWidth: 1
            },
            {
                label: 'Amplitude', data: ampPoints, xAxisID: 'cycle', yAxisID: 'yAmp',
                pointRadius: 3.9, pointBackgroundColor: '#00ff00',
                pointBorderColor: '#000', pointBorderWidth: 1
            },
            {
                label: 'Kp', data: kpPoints, xAxisID: 'x', yAxisID: 'yKp',
                pointRadius: 2, pointBackgroundColor: '#000',
                pointBorderWidth: 0
            }
        ]
    },
    options: {
        responsive: false,
        animation: false,
        devicePixelRatio: 1,
        layout: { padding: 0, autoPadding: false },
        events: [],
        plugins: { legend: { display: false }, tooltip: { enabled: false } },
        scales: {
            x: {
                type: 'linear', axis: 'x', position: 'bottom',
                min: BJD_MIN, max: BJD_MAX,
                afterBuildTicks: useTicks(bjdTicks),
                afterFit: fixH(45),
                grid: { display: false, drawTicks: false },
                border: { display: false },
                ticks: { padding: 7, color: '#111', font: xFont, maxRotation: 0, autoSkip: false, callback: v => String(v) },
                title: {
                    display: true, text: 'BJD \u2212 2455000', color: '#000',
                    font: { family: SERIF, size: 16, weight: 'bold', lineHeight: 1 }, padding: 0
                }
            },
            cycle: {
                type: 'linear', axis: 'x', position: 'top',
                min: (BJD_MIN - T0) / PERIOD, max: (BJD_MAX - T0) / PERIOD,
                afterBuildTicks: useTicks(cycleTicks),
                afterFit: fixH(55),
                grid: { display: false, drawTicks: false },
                border: { display: false },
                ticks: { padding: -1, color: '#111', font: xFont, maxRotation: 0, autoSkip: false, callback: v => String(v) },
                title: {
                    display: true, text: 'Cycle (E)', color: '#000',
                    font: { family: SERIF, size: 15, weight: 'bold' }, padding: { top: 9, bottom: 0 }
                }
            },
            yOC:  yScale(3, 328, -0.03, 0.035, ocTicks, 2),
            yAmp: yScale(2, 171.3, 0, 0.2, ampTicks, 2),
            yKp:  yScale(1, 216.7, 15.848, 16.15, kpTicks, 1, { reverse: true })
        }
    },
    plugins: [framePlugin]
});
</script>
</body>
</html>
